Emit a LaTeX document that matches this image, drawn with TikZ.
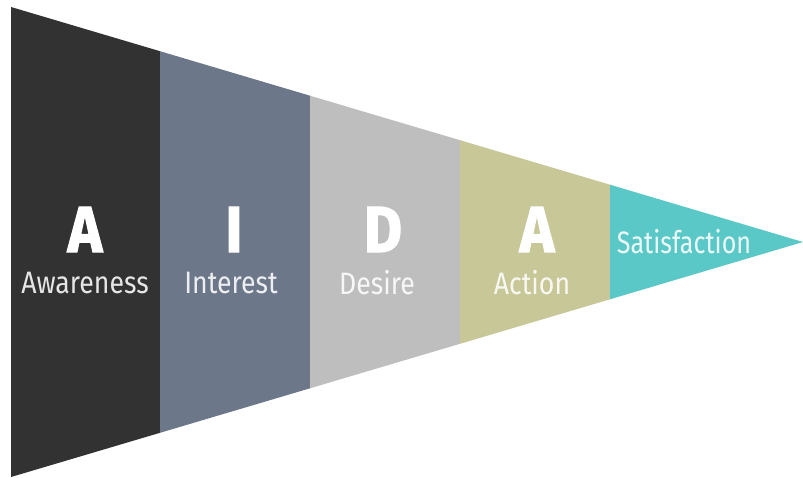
\documentclass[tikz,border=0pt]{standalone}
\usepackage{fontspec}
\setmainfont{Fira Sans}
\newfontfamily\heavyfont{Fira Sans}[BoldFeatures={FakeBold=2}]
\definecolor{cA}{HTML}{323232}
\definecolor{cI}{HTML}{6C7789}
\definecolor{cD}{HTML}{BEBEBE}
\definecolor{cAc}{HTML}{C8C797}
\definecolor{cS}{HTML}{5BC8C8}
\tikzset{
  bigletter/.style={text=white,anchor=base,inner sep=0pt,font=\heavyfont\fontsize{65}{65}\selectfont\bfseries},
  word/.style={text=white,text opacity=0.88,anchor=base,inner sep=0pt,font=\fontsize{31}{31}\selectfont},
}
\newcommand{\narrow}[1]{\scalebox{0.86}[1]{#1}}
\newcommand{\narrowS}[1]{\scalebox{0.81}[1]{#1}}
\newcommand{\narrowL}[1]{\scalebox{0.9}[1]{#1}}
\begin{document}
\begin{tikzpicture}[x=1pt,y=-1pt]
\useasboundingbox (0,0) rectangle (803,477);
\fill[cA]  (11,7) -- (160,51.2) -- (160,432.8) -- (11,477) -- cycle;
\fill[cI]  (160,51.2) -- (310,95.7) -- (310,388.3) -- (160,432.8) -- cycle;
\fill[cD]  (310,95.7) -- (460,140.2) -- (460,343.8) -- (310,388.3) -- cycle;
\fill[cAc] (460,140.2) -- (610,184.7) -- (610,299.3) -- (460,343.8) -- cycle;
\fill[cS]  (610,184.7) -- (803,242) -- (610,299.3) -- cycle;
\node[bigletter] (l1) at (85,252) {\narrowL{A}};
\node[bigletter] (l2) at (234,252) {\narrowL{I}};
\node[bigletter] (l3) at (383,252) {\narrowL{D}};
\node[bigletter] (l4) at (537,252) {\narrowL{A}};
\node[word] (w1) at (85,293) {\narrow{Awareness}};
\node[word] (w2) at (231,293) {\narrow{Interest}};
\node[word] (w3) at (377,294) {\narrow{Desire}};
\node[word] (w4) at (532,294) {\narrow{Action}};
\node[word] (w5) at (684,253) {\narrowS{Satisfaction}};
\end{tikzpicture}
\end{document}
